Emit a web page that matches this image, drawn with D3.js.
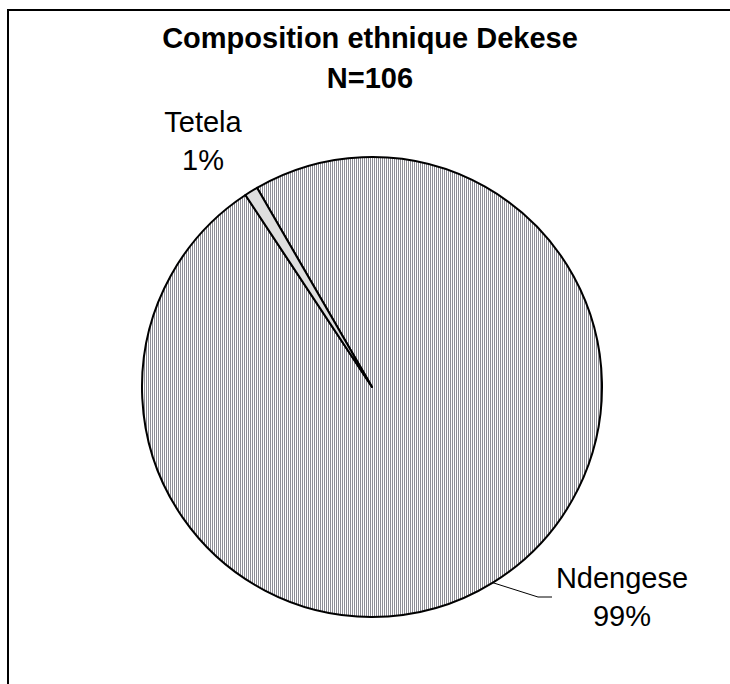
<!DOCTYPE html>
<html>
<head>
<meta charset="utf-8">
<script src="https://cdn.jsdelivr.net/npm/d3@7/dist/d3.min.js"></script>
<style>
  html, body { margin: 0; padding: 0; background: #fff; }
  svg { display: block; }
  text { font-family: Arial, "Liberation Sans", sans-serif; fill: #000; }
</style>
</head>
<body>
<svg id="chart" width="730" height="684"></svg>
<script>
// Ethnic composition, Dekese (N = 106)
const categories = ["Ndengese", "Tetela"];
const counts = [105, 1];
const percentLabels = ["99%", "1%"];
const titleLines = ["Composition ethnique Dekese", "N=106"];

const svg = d3.select("#chart");
const W = 730, H = 684;
const cx = 372, cy = 387, R = 230;

// striped fill for the main slice
const defs = svg.append("defs");
const pat = defs.append("pattern")
  .attr("id", "stripes")
  .attr("patternUnits", "userSpaceOnUse")
  .attr("width", 2).attr("height", 4);
pat.append("rect").attr("width", 2).attr("height", 4).attr("fill", "#fff");
pat.append("rect").attr("width", 1).attr("height", 4).attr("fill", "#8e8e96");

const fills = ["url(#stripes)", "#dedede"];

// outer chart frame
svg.append("rect")
  .attr("x", 8).attr("y", 10)
  .attr("width", W + 20).attr("height", H + 20)
  .attr("fill", "none").attr("stroke", "#000").attr("stroke-width", 2);

// title
svg.append("g").selectAll("text")
  .data(titleLines)
  .join("text")
  .attr("x", 370)
  .attr("y", (d, i) => 48 + i * 40)
  .attr("text-anchor", "middle")
  .attr("font-size", 29)
  .attr("font-weight", "bold")
  .text(d => d);

// pie
const startDeg = -30;
const pie = d3.pie()
  .sort(null)
  .value(d => d)
  .startAngle(startDeg * Math.PI / 180)
  .endAngle((startDeg + 360) * Math.PI / 180);
const arcs = pie(counts);
const arc = d3.arc().innerRadius(0).outerRadius(R);

const g = svg.append("g").attr("transform", `translate(${cx},${cy})`);
g.selectAll("path")
  .data(arcs)
  .join("path")
  .attr("d", arc)
  .attr("fill", (d, i) => fills[i])
  .attr("stroke", "#000")
  .attr("stroke-width", 2)
  .attr("stroke-linejoin", "round");

// labels
const labelPos = [
  { x: 622, y: 588, anchor: "middle" },
  { x: 203, y: 132, anchor: "middle" }
];
const lg = svg.append("g");
categories.forEach((c, i) => {
  const p = labelPos[i];
  lg.append("text")
    .attr("x", p.x).attr("y", p.y)
    .attr("text-anchor", p.anchor)
    .attr("font-size", 29)
    .text(c);
  lg.append("text")
    .attr("x", p.x).attr("y", p.y + 38)
    .attr("text-anchor", p.anchor)
    .attr("font-size", 29)
    .text(percentLabels[i]);
});

// leader line for the Ndengese label
const rimAngle = Math.atan2(583 - cy, 493 - cx);
const rx = cx + R * Math.cos(rimAngle), ry = cy + R * Math.sin(rimAngle);
svg.append("polyline")
  .attr("points", [[rx, ry], [538, 597], [552, 597]].map(p => p.join(",")).join(" "))
  .attr("fill", "none")
  .attr("stroke", "#000")
  .attr("stroke-width", 1);
</script>
</body>
</html>
